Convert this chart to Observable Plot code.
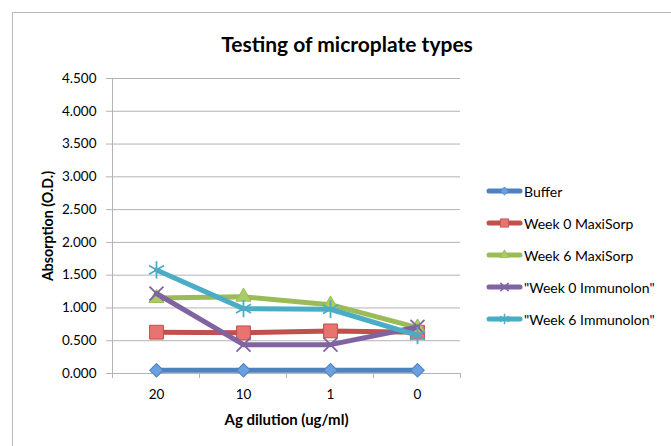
<!DOCTYPE html>
<html><head><meta charset="utf-8">
<script src="https://cdn.jsdelivr.net/npm/d3@7"></script>
<script src="https://cdn.jsdelivr.net/npm/@observablehq/plot@0.6"></script>
<style>
body{margin:0;background:#fff;}
#wrap{position:relative;width:671px;height:446px;overflow:hidden;font-family:Lato,"Open Sans",sans-serif;color:#000;}
#border{position:absolute;left:12px;top:12px;width:720px;height:520px;border:1.5px solid #b8b8b8;}
#title{position:absolute;left:0;width:694px;top:31px;text-align:center;font-weight:bold;font-size:21px;line-height:26px;}
#chart{position:absolute;left:0;top:0;}
#legend{position:absolute;left:486px;top:175px;font-size:14px;}
.row{display:flex;align-items:center;height:32px;}
.row svg{display:block;margin-right:1px;}
</style></head>
<body><div id="wrap"><div id="border"></div><div id="chart"></div><div id="title">Testing of microplate types</div><div id="legend"></div></div>
<script>
const categories = ["20", "10", "1", "0"];
const seriesNames = ["Buffer", "Week 0 MaxiSorp", "Week 6 MaxiSorp", "\"Week 0 Immunolon\"", "\"Week 6 Immunolon\""];
const buffer = [0.05, 0.05, 0.05, 0.05];
const week0MaxiSorp = [0.63, 0.62, 0.65, 0.63];
const week6MaxiSorp = [1.15, 1.17, 1.05, 0.70];
const week0Immunolon = [1.22, 0.44, 0.44, 0.71];
const week6Immunolon = [1.58, 0.99, 0.98, 0.58];
const yTicks = [0, 0.5, 1, 1.5, 2, 2.5, 3, 3.5, 4, 4.5];
const xLabel = "Ag dilution (ug/ml)";
const yLabel = "Absorption (O.D.)";

const values = [buffer, week0MaxiSorp, week6MaxiSorp, week0Immunolon, week6Immunolon];
const styles = [
  {line: "#4f81bd", symbol: "square", rotate: 45, r: 5.4, fill: "#6aa0e0", stroke: "#4f81bd", sw: 1},
  {line: "#c0504d", symbol: "square", rotate: 0, r: 7.8, fill: "#e8736f", stroke: "#c0504d", sw: 1},
  {line: "#9bbb59", symbol: "triangle", rotate: 0, r: 5.6, fill: "#a9cd60", stroke: "#9bbb59", sw: 1},
  {line: "#8064a2", symbol: "times", rotate: 0, r: 6.4, fill: "none", stroke: "#8064a2", sw: 1.8},
  {line: "#4bacc6", symbol: "asterisk", rotate: 0, r: 8.2, fill: "none", stroke: "#4bacc6", sw: 1.8}
];
const series = seriesNames.map((name, i) => values[i].map((v, j) => ({series: name, x: categories[j], y: v})));

const seriesMarks = series.flatMap((data, i) => {
  const s = styles[i];
  return [
    Plot.line(data, {x: "x", y: "y", stroke: s.line, strokeWidth: 5, strokeLinejoin: "round", strokeLinecap: "round"}),
    Plot.dot(data, {x: "x", y: "y", symbol: s.symbol, r: s.r, rotate: s.rotate, fill: s.fill, stroke: s.stroke, strokeWidth: s.sw})
  ];
});

const chart = Plot.plot({
  width: 671, height: 446,
  marginLeft: 112, marginRight: 211, marginTop: 78, marginBottom: 73,
  style: {fontFamily: "Lato, 'Open Sans', sans-serif", fontSize: "13.5px", color: "#000", background: "transparent"},
  x: {type: "point", domain: categories, padding: 0.5},
  y: {domain: [0, 4.5]},
  marks: [
    Plot.gridY(yTicks, {stroke: "#b3b3b3", strokeOpacity: 1, strokeWidth: 1}),
    Plot.axisY(yTicks, {tickFormat: d3.format(".3f"), tickSize: 6, tickPadding: 10, stroke: "#b3b3b3", label: null}),
    Plot.axisX({tickSize: 0, tickPadding: 16, label: null}),
    Plot.text([yLabel], {text: d => d, frameAnchor: "left", textAnchor: "middle", lineAnchor: "middle", rotate: -90, dx: -64, fontWeight: "bold", fontSize: 14.2}),
    Plot.text([xLabel], {text: d => d, frameAnchor: "bottom", textAnchor: "middle", lineAnchor: "middle", dy: 47, fontWeight: "bold", fontSize: 15}),
    ...seriesMarks
  ]
});
document.getElementById("chart").appendChild(chart);

// Excel-style axis line and category tick marks between categories, from the library's scales
const xs = chart.scale("x"), ys = chart.scale("y");
const pos = categories.map(c => xs.apply(c));
const step = pos[1] - pos[0];
const bounds = [pos[0] - step / 2, ...pos.map(p => p + step / 2)];
const y0 = ys.apply(0), yTop = ys.apply(4.5);
const g = d3.select(chart).insert("g", "g[aria-label='line']").attr("stroke", "#b3b3b3").attr("stroke-width", 1);
g.append("line").attr("x1", bounds[0]).attr("x2", bounds[0]).attr("y1", yTop).attr("y2", y0);
bounds.forEach(b => g.append("line").attr("x1", b).attr("x2", b).attr("y1", y0).attr("y2", y0 + 5));

// Legend
const legend = d3.select("#legend");
seriesNames.forEach((name, i) => {
  const s = styles[i];
  const row = legend.append("div").attr("class", "row");
  const sv = row.append("svg").attr("width", 37).attr("height", 14);
  sv.append("line").attr("x1", 3).attr("x2", 34).attr("y1", 7).attr("y2", 7)
    .attr("stroke", s.line).attr("stroke-width", 5).attr("stroke-linecap", "round");
  const sym = {square: d3.symbolSquare, triangle: d3.symbolTriangle, times: d3.symbolTimes, asterisk: d3.symbolAsterisk}[s.symbol];
  const rr = s.r * 0.6;
  sv.append("path").attr("d", d3.symbol(sym, rr * rr * Math.PI)())
    .attr("transform", `translate(18.5,7) rotate(${s.rotate})`)
    .attr("fill", s.fill).attr("stroke", s.stroke).attr("stroke-width", s.sw * 0.8);
  row.append("span").text(name);
});
</script></body></html>
